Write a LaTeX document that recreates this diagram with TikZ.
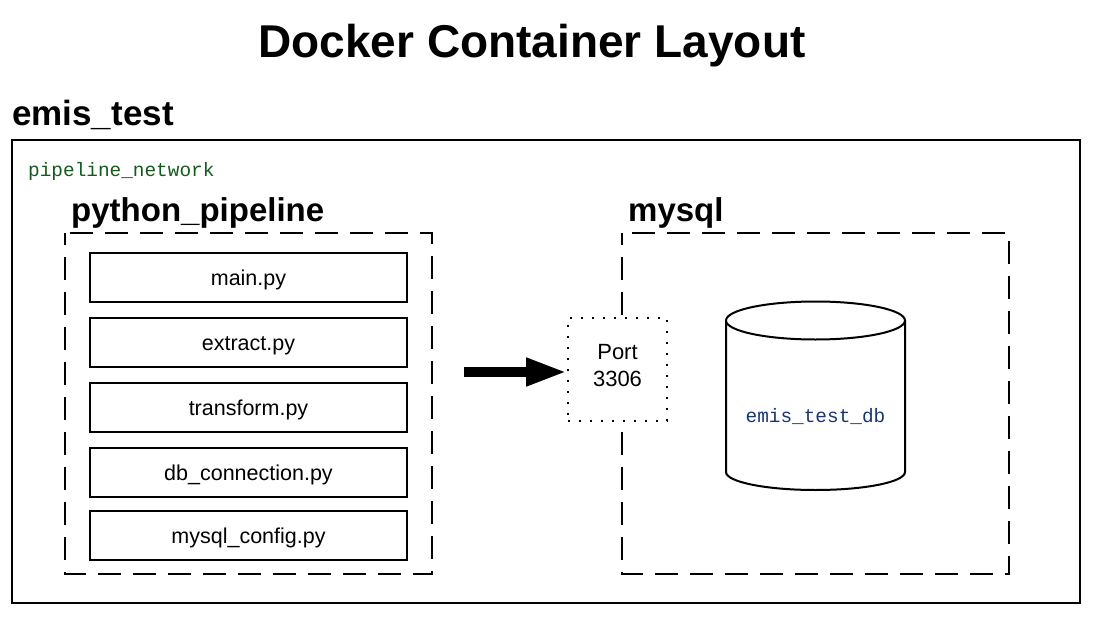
\documentclass[tikz,border=0pt]{standalone}
\usepackage{fontspec}
\setmainfont{Liberation Sans}
\setmonofont{Liberation Mono}
\usetikzlibrary{arrows.meta}
\definecolor{netgreen}{RGB}{20,90,30}
\definecolor{dbblue}{RGB}{25,55,110}
\tikzset{
  filebox/.style={draw, line width=2pt, minimum width=317pt, minimum height=49pt, inner sep=0pt, text height=22pt, text depth=6pt, font=\fontsize{21.5}{24}\selectfont},
  svcbox/.style={draw, line width=2pt, dash pattern=on 23pt off 12pt, dash phase=11.5pt},
  svclabel/.style={anchor=base west, inner sep=0pt, font=\fontsize{33}{38}\bfseries\selectfont},
}
\begin{document}
\begin{tikzpicture}[x=1pt,y=-1pt]
\useasboundingbox (0,0) rectangle (1095,626);
% title
\node[inner sep=0pt, font=\fontsize{46}{52}\bfseries\selectfont] (title) at (532,46) {Docker Container Layout};
% outer container
\node[anchor=base west, inner sep=0pt, font=\fontsize{35}{40}\bfseries\selectfont] (emis) at (12,125) {emis\_test};
\draw[line width=2.5pt] (12,140) rectangle (1080,603);
\node[anchor=base west, inner sep=0pt, text=netgreen, font=\ttfamily\fontsize{19.4}{22}\selectfont] (net) at (28,176) {pipeline\_network};
% python pipeline
\node[svclabel] (pylabel) at (71,221) {python\_pipeline};
\draw[svcbox] (65,233) rectangle (432,574);
\node[filebox] (main) at (248.5,277.5) {main.py};
\node[filebox] (extract) at (248.5,342.5) {extract.py};
\node[filebox] (transform) at (248.5,407.5) {transform.py};
\node[filebox] (dbconn) at (248.5,472.5) {db\_connection.py};
\node[filebox] (config) at (248.5,535) {mysql\_config.py};
% mysql
\node[svclabel] (mylabel) at (628,221) {mysql};
\draw[svcbox] (622,233) rectangle (1009,574);
% port
\node[draw, fill=white, line width=2pt, dash pattern=on 2pt off 9pt, minimum width=99pt, minimum height=103pt, inner sep=0pt] (port) at (617.5,369.5) {};
\node[inner sep=0pt, align=center, font=\fontsize{22}{27}\selectfont] (porttext) at (617.5,365.5) {Port\\3306};
\coordinate (src) at (464,372);
\draw[line width=10pt, -{Triangle[length=41pt,width=26pt]}] (src) -- (src -| port.west);
% database cylinder
\draw[line width=2pt, fill=white] (726,320.5) -- (726,472) arc[start angle=180, end angle=360, x radius=89.5pt, y radius=18pt] -- (905,320.5);
\draw[line width=2pt, fill=white] (815.5,320.5) ellipse[x radius=89.5pt, y radius=19pt];
\node[inner sep=0pt, text=dbblue, font=\ttfamily\fontsize{19.4}{22}\selectfont] (db) at (815.5,417) {emis\_test\_db};
\end{tikzpicture}
\end{document}
